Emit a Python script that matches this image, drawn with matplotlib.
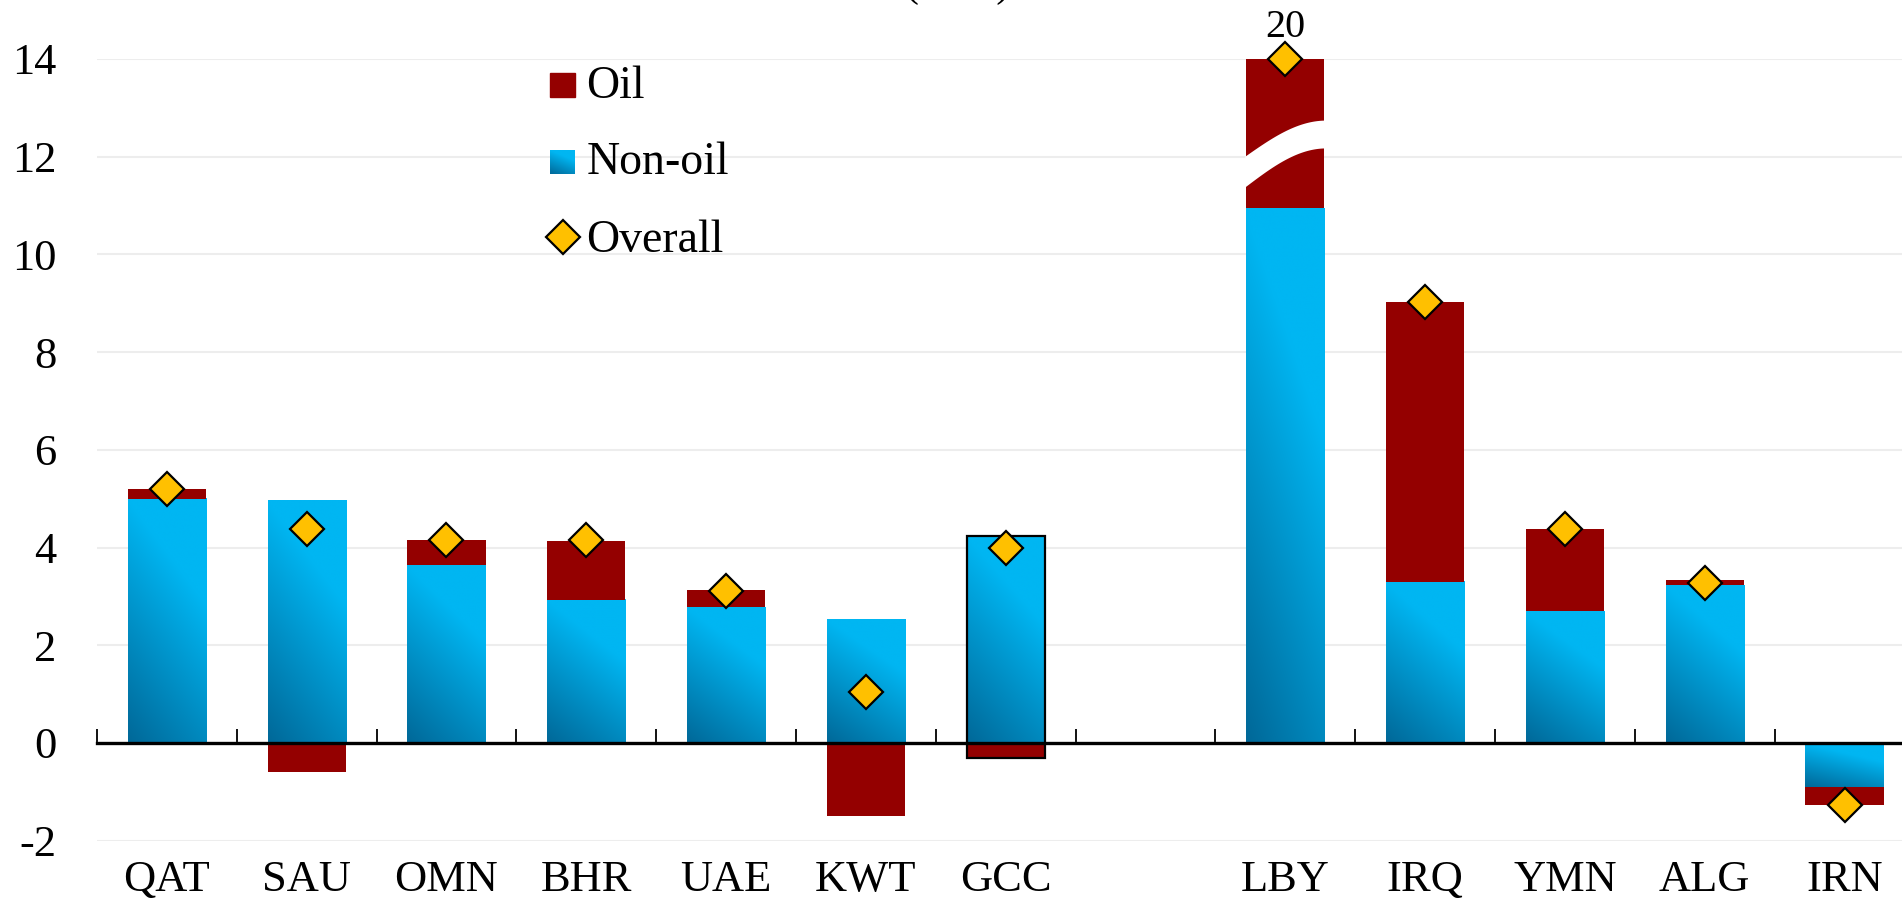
import numpy as np
import matplotlib
matplotlib.use("Agg")
import matplotlib.pyplot as plt

plt.rcParams['font.family'] = ['Liberation Serif', 'DejaVu Serif']

# growth contributions, percentage points
countries = ['QAT', 'SAU', 'OMN', 'BHR', 'UAE', 'KWT', 'GCC',
             'LBY', 'IRQ', 'YMN', 'ALG', 'IRN']
non_oil = [5.0, 4.97, 3.65, 2.93, 2.78, 2.53, 4.24,
           10.95, 3.30, 2.70, 3.23, -0.90]
oil = [0.20, -0.60, 0.50, 1.20, 0.35, -1.49, -0.30,
       9.05, 5.73, 1.67, 0.10, -0.37]
overall = [5.20, 4.38, 4.15, 4.15, 3.12, 1.04, 3.99,
           20.0, 9.03, 4.37, 3.28, -1.27]
n_gcc = 7  # first group: GCC members + aggregate

OIL_C = '#940000'
LIGHT = np.array([0, 182, 242]) / 255
DARK = np.array([0, 104, 152]) / 255
GOLD = '#FFC000'
YMIN, YMAX = -2, 14
W = 0.56


def grad_img(n=80):
    v = np.linspace(0, 1, n)[:, None]
    u = np.linspace(0, 1, n)[None, :]
    t = 0.7 * (1 - v) + 0.3 * (1 - u)
    s = np.clip((t - 0.3) / 0.7, 0, 1)[..., None]
    return LIGHT * (1 - s) + DARK * s


fig = plt.figure(figsize=(19.02, 9.06), dpi=100)
ax = fig.add_axes([97 / 1902, 65.3 / 906, 14 * 139.8 / 1902, 781.7 / 906])

xpos = np.r_[np.arange(n_gcc), np.arange(n_gcc + 1, len(countries) + 1)]
non_oil = np.array(non_oil)
oil = np.array(oil)
overall = np.array(overall)

# non-oil bars with gradient fill
img = grad_img()
for x, v in zip(xpos, non_oil):
    lo, hi = min(0, v), max(0, v)
    ax.imshow(img, extent=[x - W / 2, x + W / 2, lo, hi], origin='lower',
              aspect='auto', interpolation='bilinear', zorder=2)

# oil stacks on top of non-oil if same sign, otherwise from zero
oil_bottom = np.where(np.sign(oil) == np.sign(non_oil), non_oil, 0)
ax.bar(xpos, oil, W, bottom=oil_bottom, color=OIL_C, zorder=2, linewidth=0)

# outline around the aggregate
g = countries.index('GCC')
lo = min(0, oil_bottom[g] + oil[g], non_oil[g])
hi = max(non_oil[g], oil_bottom[g] + oil[g])
ax.bar(xpos[g], hi - lo, W, bottom=lo, fill=False, edgecolor='black',
       linewidth=1.6, zorder=3)

# break mark on the off-scale bar
b = countries.index('LBY')
uu = np.linspace(0, 1, 60)
f = np.sin(uu * np.pi / 2)
xs = xpos[b] - W / 2 - 0.01 + uu * (W + 0.02)
ax.fill_between(xs, 11.38 + f * 0.80, 12.01 + f * 0.74, color='white',
                zorder=3, linewidth=0)

# overall markers (capped at the top of the axis)
ax.plot(xpos, np.minimum(overall, YMAX), linestyle='none', marker='D', ms=17,
        mfc=GOLD, mec='black', mew=1.6, zorder=5, clip_on=False)
for x, v in zip(xpos, overall):
    if v > YMAX:
        ax.annotate(f'{v:g}', (x, YMAX), xytext=(0, 16),
                    textcoords='offset points', ha='center', va='baseline',
                    fontsize=29)

# legend
ax.add_patch(plt.Rectangle((2.74, 13.22), 0.178, 0.49, color=OIL_C, zorder=4))
ax.imshow(img, extent=[2.74, 2.918, 11.65, 12.14], origin='lower',
          aspect='auto', interpolation='bilinear', zorder=4)
ax.plot([2.83], [10.36], marker='D', ms=17, mfc=GOLD, mec='black', mew=1.6,
        zorder=5)
for txt, yb in [('Oil', 13.20), ('Non-oil', 11.65), ('Overall', 10.05)]:
    ax.text(3.0, yb, txt, fontsize=33, va='baseline', ha='left', zorder=5)

# axes styling
ax.set_xlim(-0.5, 13.5)
ax.set_ylim(YMIN, YMAX)
for s in ['top', 'right', 'left']:
    ax.spines[s].set_visible(False)
ax.spines['bottom'].set_position(('data', 0))
ax.spines['bottom'].set_linewidth(2.4)
ax.spines['bottom'].set_zorder(4)

ax.set_xticks(xpos)
ax.set_xticklabels(countries, fontsize=32)
ax.set_xticks(np.arange(-0.5, 14, 1), minor=True)
ax.tick_params(axis='x', which='major', length=0, pad=84)
ax.tick_params(axis='x', which='minor', direction='in', length=10, width=1.3)

ax.set_yticks(range(YMIN, YMAX + 1, 2))
ax.set_yticklabels([str(v) for v in range(YMIN, YMAX + 1, 2)], fontsize=32)
ax.tick_params(axis='y', length=0, pad=29)
ax.yaxis.grid(True, color='#EDEDED', linewidth=1.5)
ax.set_axisbelow(True)

fig.text(958 / 1902, 1 + 4 / 906, '(in %)', ha='center', va='baseline',
         fontsize=30)

fig.savefig('out.png', dpi=100)
